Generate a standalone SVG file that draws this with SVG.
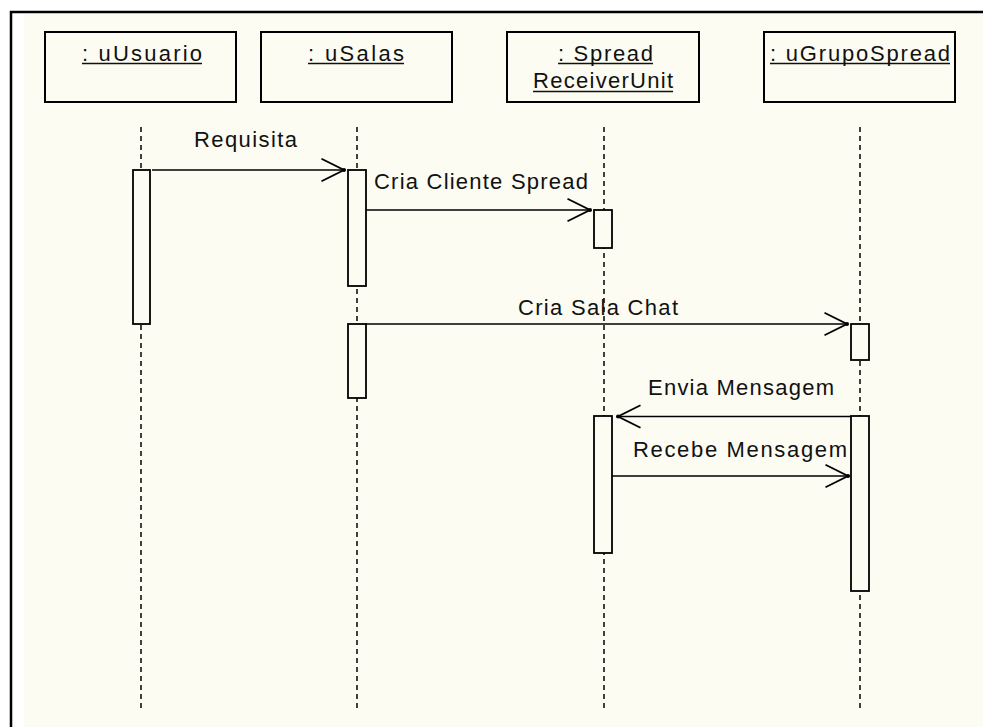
<svg xmlns="http://www.w3.org/2000/svg" width="983" height="727" viewBox="0 0 983 727">
  <style>
    .frame { stroke: #000; stroke-width: 2.5; fill: none; }
    .obj { fill: #fcfcf3; stroke: #000; stroke-width: 2; }
    .act { fill: #fcfcf3; stroke: #000; stroke-width: 1.8; }
    .life { stroke: #000; stroke-width: 1.5; stroke-dasharray: 5 4; fill: none; }
    .msg { stroke: #000; stroke-width: 1.5; fill: none; marker-end: url(#open); }
    .uline { stroke: #111; stroke-width: 1.6; }
    text { font-family: "Liberation Sans", Arial, sans-serif; font-size: 22px; fill: #111; }
  </style>
  <defs>
    <marker id="open" markerUnits="userSpaceOnUse" markerWidth="30" markerHeight="30" viewBox="-20 -12 24 24" refX="0" refY="0" orient="auto" overflow="visible">
      <path d="M-18,-9 L0,0 L-18,9" fill="none" stroke="#000" stroke-width="1.5"/>
      <circle cx="0" cy="0" r="1.6" fill="#000"/>
    </marker>
  </defs>

  <!-- page background and frame -->
  <rect x="0" y="0" width="983" height="727" fill="#ffffff"/>
  <rect x="24" y="14" width="959" height="713" fill="#fcfcf3"/>
  <path class="frame" d="M11,727 L11,12 L983,12"/>

  <!-- lifelines -->
  <g id="lifelines">
    <line class="life" x1="141" y1="127" x2="141" y2="709"/>
    <line class="life" x1="357" y1="127" x2="357" y2="709"/>
    <line class="life" x1="604" y1="127" x2="604" y2="709"/>
    <line class="life" x1="860" y1="127" x2="860" y2="709"/>
  </g>

  <!-- objects (names underlined, UML instance style) -->
  <g id="uUsuario">
    <rect class="obj" x="45" y="32" width="191" height="70"/>
    <text x="82" y="61" textLength="120" lengthAdjust="spacing">: uUsuario</text>
    <line class="uline" x1="82" y1="63.5" x2="202" y2="63.5"/>
    <rect class="act" x="133" y="170" width="17" height="154"/>
  </g>
  <g id="uSalas">
    <rect class="obj" x="261" y="32" width="191" height="70"/>
    <text x="308" y="61" textLength="96" lengthAdjust="spacing">: uSalas</text>
    <line class="uline" x1="308" y1="63.5" x2="404" y2="63.5"/>
    <rect class="act" x="348" y="170" width="18" height="116"/>
    <rect class="act" x="348" y="324" width="18" height="74"/>
  </g>
  <g id="SpreadReceiverUnit">
    <rect class="obj" x="507" y="32" width="192" height="70"/>
    <text x="558" y="61" textLength="95" lengthAdjust="spacing">: Spread</text>
    <line class="uline" x1="558" y1="63.5" x2="653" y2="63.5"/>
    <text x="533" y="88" textLength="140" lengthAdjust="spacing">ReceiverUnit</text>
    <line class="uline" x1="533" y1="91.5" x2="673" y2="91.5"/>
    <rect class="act" x="594" y="210" width="18" height="38"/>
    <rect class="act" x="594" y="416" width="18" height="137"/>
  </g>
  <g id="uGrupoSpread">
    <rect class="obj" x="764" y="32" width="191" height="70"/>
    <text x="770" y="61" textLength="180" lengthAdjust="spacing">: uGrupoSpread</text>
    <line class="uline" x1="770" y1="63.5" x2="950" y2="63.5"/>
    <rect class="act" x="851" y="324" width="18" height="36"/>
    <rect class="act" x="851" y="416" width="18" height="175"/>
  </g>

  <!-- messages -->
  <g id="messages">
    <line class="msg" x1="152" y1="170" x2="344" y2="170"/>
    <text x="194" y="147" textLength="103" lengthAdjust="spacing">Requisita</text>

    <line class="msg" x1="366" y1="210" x2="590" y2="210"/>
    <text x="374" y="189" textLength="214" lengthAdjust="spacing">Cria Cliente Spread</text>

    <line class="msg" x1="366" y1="324" x2="847" y2="324"/>
    <text x="518" y="315" textLength="160" lengthAdjust="spacing">Cria Sala Chat</text>

    <line class="msg" x1="851" y1="416.5" x2="618" y2="416.5"/>
    <text x="648" y="395" textLength="186" lengthAdjust="spacing">Envia Mensagem</text>

    <line class="msg" x1="612" y1="476" x2="848" y2="476"/>
    <text x="633" y="457" textLength="214" lengthAdjust="spacing">Recebe Mensagem</text>
  </g>
</svg>
